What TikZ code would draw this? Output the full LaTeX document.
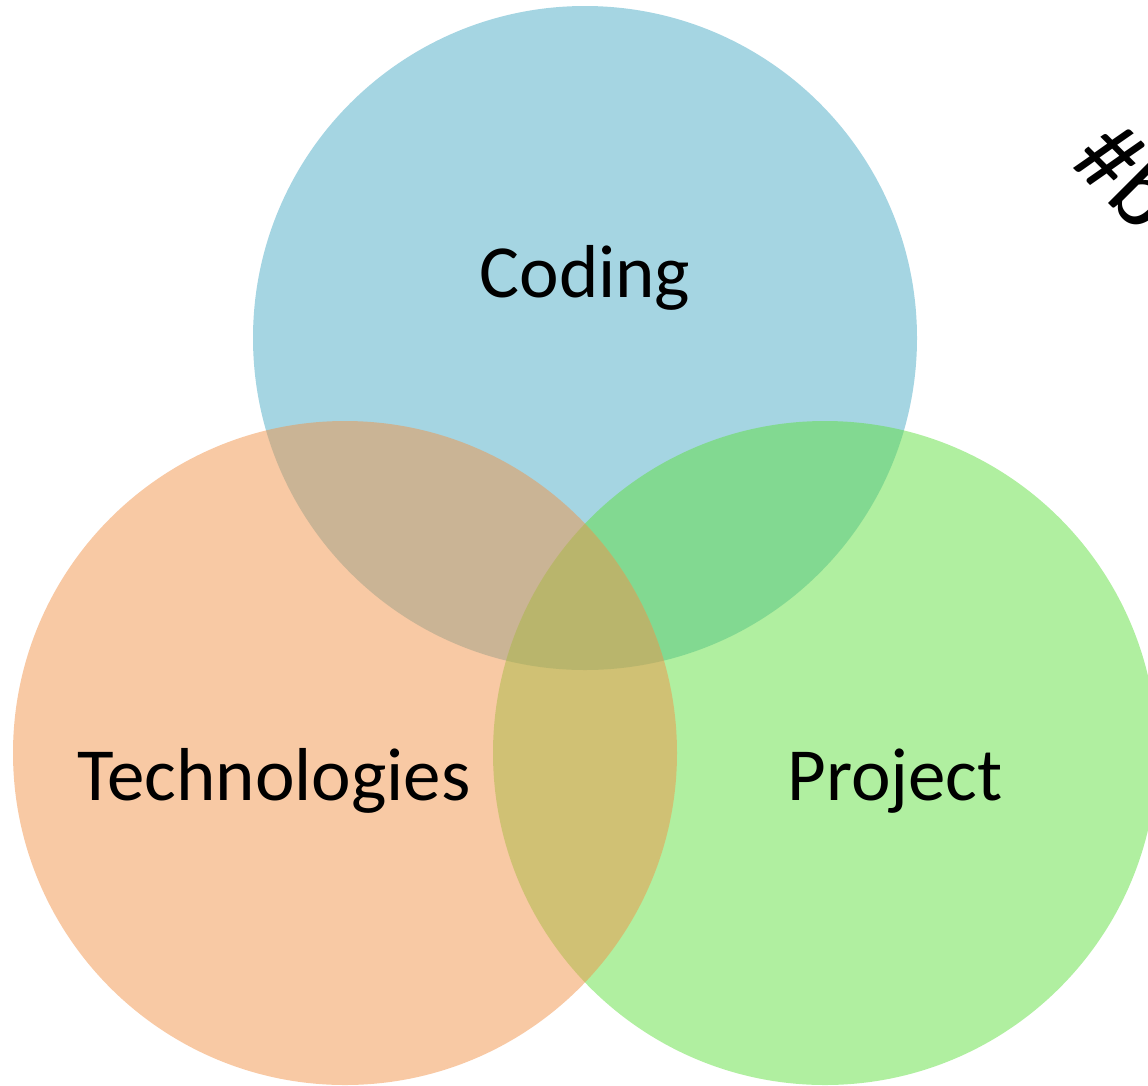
\documentclass[tikz,border=0pt]{standalone}
\usepackage{fontspec}
\setmainfont{Carlito}
\definecolor{codingblue}{RGB}{75,171,197}
\definecolor{projectgreen}{RGB}{97,223,65}
\definecolor{techorange}{RGB}{241,147,73}
\begin{document}
\begin{tikzpicture}[x=1pt,y=-1pt,
      set/.style = {circle, minimum size = 664pt, inner sep = 0pt, fill opacity = 0.5},
      setlabel/.style = {anchor = base, font = \fontsize{75}{80}\selectfont}]
  \useasboundingbox (0,0) rectangle (1148,1085);
  \clip (0,0) rectangle (1148,1085);

  % Set Coding
  \node[set,fill=codingblue] (coding) at (585,338) {};

  % Set Project
  \node[set,fill=projectgreen] (project) at (825,753) {};

  % Set Technologies
  \node[set,fill=techorange] (tech) at (345,753) {};

  % Labels
  \node[setlabel] (codinglabel) at (585,297) {Coding};
  \node[setlabel] (techlabel) at (274,800) {Technologies};
  \node[setlabel] (projectlabel) at (895,800) {Project};

  % Tag in the corner
  \node[anchor = base west, rotate = -45, inner sep = 0pt,
        font = \fontsize{100}{100}\selectfont] (tag) at (1068,163) {\#b};
\end{tikzpicture}
\end{document}
